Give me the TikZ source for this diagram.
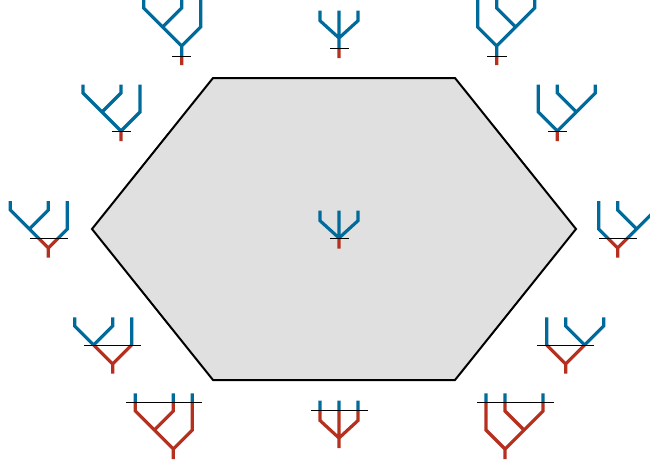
\documentclass[tikz,border=0pt]{standalone}
\definecolor{treeblue}{HTML}{006A9A}
\definecolor{treered}{HTML}{B5301E}
\definecolor{hexfill}{HTML}{E0E0E0}
\tikzset{
  hexagon/.style={draw=black,fill=hexfill,line width=2pt,line join=miter},
  blueedge/.style={draw=treeblue,line width=3.2pt},
  rededge/.style={draw=treered,line width=3.2pt},
  cutline/.style={draw=black,line width=1pt},
}
% colour a tree blue above its cut line and red below it
\newcommand{\bicolor}[2]{%
  \begin{scope}\clip (-20,-30) rectangle (680,#1);\path[blueedge] #2;\end{scope}
  \begin{scope}\clip (-20,#1) rectangle (680,490);\path[rededge] #2;\end{scope}
}
% #1 root x, #2 root junction y, #3 leaf top, #4 cut y, #5 tip y, #6 cut x1, #7 cut x2
\newcommand{\treeL}[7]{%
  \bicolor{#4}{(#1-38,#3) -- (#1-38,#2-38) -- (#1,#2) -- (#1,#5)
    (#1,#3) -- (#1,#2-38) -- (#1-19,#2-19)
    (#1+19,#3) -- (#1+19,#2-19) -- (#1,#2)}
  \draw[cutline] (#6,#4) -- (#7,#4);
}
\newcommand{\treeR}[7]{%
  \bicolor{#4}{(#1+38,#3) -- (#1+38,#2-38) -- (#1,#2) -- (#1,#5)
    (#1,#3) -- (#1,#2-38) -- (#1+19,#2-19)
    (#1-19,#3) -- (#1-19,#2-19) -- (#1,#2)}
  \draw[cutline] (#6,#4) -- (#7,#4);
}
\newcommand{\treeC}[8]{% #8 shoulder y
  \bicolor{#4}{(#1-19,#3) -- (#1-19,#8) -- (#1,#2) -- (#1,#5)
    (#1,#3) -- (#1,#2)
    (#1+19,#3) -- (#1+19,#8) -- (#1,#2)}
  \draw[cutline] (#6,#4) -- (#7,#4);
}
\begin{document}
\begin{tikzpicture}[x=1pt,y=-1pt]
  \useasboundingbox (0,0) rectangle (650,463);
  \clip (0,0) rectangle (650,463);
  \path[hexagon] (213,78) -- (455,78) -- (576,229) -- (455,380) -- (213,380) -- (92,229) -- cycle;
  % left side
  \treeL{181.7}{46}{-10}{56}{65}{172}{191}
  \treeL{121}{131}{84.5}{131.7}{141}{112}{130.5}
  \treeL{48.3}{248}{201}{238.5}{257.5}{29.5}{67.5}
  \treeL{112.7}{364}{317.3}{345.5}{373.5}{84.3}{141}
  \treeL{173.3}{449}{393.3}{402.3}{459}{126}{201.5}
  % right side
  \treeR{496.7}{46}{-10}{56}{65}{487.3}{506.7}
  \treeR{557.3}{131}{84.5}{131.7}{141}{548}{566.7}
  \treeR{617.7}{248}{201}{238.5}{257.5}{599}{636.7}
  \treeR{565.7}{364}{317.3}{345.5}{373.5}{537.3}{593.5}
  \treeR{505}{449}{393.3}{402.3}{459}{477}{553.5}
  % centre column
  \treeC{339}{38}{10.7}{48.3}{58}{330}{348.7}{20.7}
  \treeC{339}{238}{210.7}{238.3}{248.5}{330}{348.7}{220.7}
  \treeC{339}{438}{400.7}{410}{448}{311}{367.7}{420.5}
\end{tikzpicture}
\end{document}
